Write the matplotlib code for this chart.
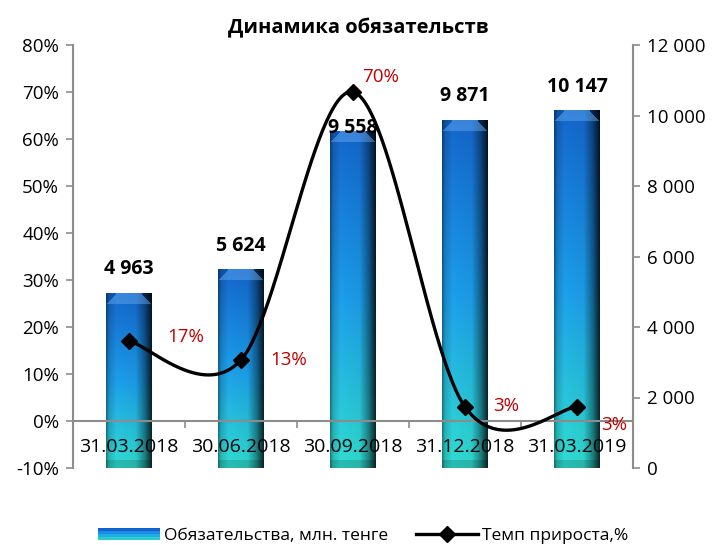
import numpy as np
import matplotlib
matplotlib.use("Agg")
import matplotlib.pyplot as plt
from matplotlib.patches import Rectangle
from matplotlib.lines import Line2D
from matplotlib.legend_handler import HandlerBase
import matplotlib.ticker as mticker

plt.rcParams['font.family'] = ['Open Sans', 'DejaVu Sans']

# ---- data ----
categories = ["31.03.2018", "30.06.2018", "30.09.2018", "31.12.2018", "31.03.2019"]
liabilities = [4963, 5624, 9558, 9871, 10147]
growth_pct = [17, 13, 70, 3, 3]
bar_label_text = ["4 963", "5 624", "9 558", "9 871", "10 147"]
pct_label_text = ["17%", "13%", "70%", "3%", "3%"]
series_names = ["Обязательства, млн. тенге", "Темп прироста,%"]
title = "Динамика обязательств"

# ---- style / positions ----
pct_offsets = [(41, 3), (34, 0), (20, 11), (30, 1), (27, -13)]   # points
bar_label_offsets = [17, 17, 2, 17, 17]                          # points above bar top
red = "#C00000"
gray = "#8C8C8C"

W, H = 713, 545
fig = plt.figure(figsize=(W / 100, H / 100), dpi=100)
ax = fig.add_axes([73 / W, 1 - 468 / H, 560 / W, 423 / H])
ax2 = ax.twinx()
ax.set_zorder(ax2.get_zorder() + 1)
ax.patch.set_visible(False)

n = len(categories)
x = np.arange(n)
bw = 0.41

# bar gradient image
def bar_image(px_h, px_w=46):
    hh = max(int(px_h), 2)
    t = np.linspace(0, 1, hh)[:, None, None]
    top = np.array([0.08, 0.40, 0.80])
    mid = np.array([0.11, 0.62, 0.92])
    bot = np.array([0.19, 0.87, 0.82])
    col = np.where(t < 0.5, top + (mid - top) * (t / 0.5),
                   mid + (bot - mid) * ((t - 0.5) / 0.5))
    col = np.repeat(col, px_w, axis=1)
    u = np.linspace(0, 1, px_w)
    shade = np.interp(u, [0, 0.06, 0.22, 0.65, 0.85, 1.0], [0.6, 0.85, 1.0, 0.96, 0.6, 0.2])
    img = col * shade[None, :, None]
    # top bevel (lighter blue trapezoid)
    bev = 11
    tint = np.array([0.40, 0.68, 0.95])
    for r in range(min(bev, hh)):
        lo = int((bev - r) * 0.9) + 1
        img[r, lo:px_w - lo] = img[r, lo:px_w - lo] * 0.55 + tint * 0.45
        img[r, :lo] = img[r, :lo] * 0.9
        img[r, px_w - lo:] = img[r, px_w - lo:] * 0.6
    # bottom bevel
    for r in range(max(hh - 8, 0), hh):
        img[r, :] = img[r, :] * 0.85
    return np.clip(img, 0, 1)

ymax2 = 12000
px_per_val = 423 / ymax2
for i, v in enumerate(liabilities):
    img = bar_image(v * px_per_val)
    ax2.imshow(img, extent=[x[i] - bw / 2, x[i] + bw / 2, 0, v], aspect='auto',
               interpolation='bilinear', zorder=1)

ax2.set_ylim(0, ymax2)
ax2.set_xlim(-0.5, n - 0.5)
ax2.set_yticks(np.arange(0, 12001, 2000))
ax2.yaxis.set_major_formatter(mticker.FuncFormatter(lambda v, p: f"{int(v):,}".replace(",", " ")))

# smooth line (Excel-like bezier) in pixel-scaled space
sx, sy = 112.0, 4.7
P = np.column_stack([x * sx, np.array(growth_pct, float) * sy])
curve = []
for i in range(n - 1):
    p0 = P[i - 1] if i > 0 else P[i]
    p1 = P[i]
    p2 = P[i + 1]
    p3 = P[i + 2] if i + 2 < n else P[i + 1]
    c1 = p1 + (p2 - p0) / 6
    c2 = p2 - (p3 - p1) / 6
    t = np.linspace(0, 1, 60)[:, None]
    seg = (1 - t) ** 3 * p1 + 3 * (1 - t) ** 2 * t * c1 + 3 * (1 - t) * t ** 2 * c2 + t ** 3 * p2
    curve.append(seg)
curve = np.vstack(curve)
ax.plot(curve[:, 0] / sx, curve[:, 1] / sy, color='black', lw=2.4, zorder=5, solid_capstyle='round')
ax.plot(x, growth_pct, linestyle='none', marker='D', ms=8, color='black', zorder=6)

ax.set_xlim(-0.5, n - 0.5)
ax.set_ylim(-10, 80)
ax.set_yticks(np.arange(-10, 81, 10))
ax.yaxis.set_major_formatter(mticker.FuncFormatter(lambda v, p: f"{int(round(v))}%"))

# percent labels
for i, (v, s) in enumerate(zip(growth_pct, pct_label_text)):
    ax.annotate(s, (x[i], v), xytext=pct_offsets[i], textcoords='offset points',
                ha='center', va='center', color=red, fontsize=13.5, zorder=7)

# bar labels
for i, (v, s) in enumerate(zip(liabilities, bar_label_text)):
    ax.annotate(s, (x[i], v), xycoords=ax2.transData, xytext=(0, bar_label_offsets[i]),
                textcoords='offset points', ha='center', va='center',
                fontsize=14, fontweight='bold', color='black', zorder=8)

# spines & ticks
for a in (ax, ax2):
    a.spines['top'].set_visible(False)
ax.spines['right'].set_visible(False)
ax2.spines['left'].set_visible(False)
ax2.spines['bottom'].set_visible(False)
ax.spines['bottom'].set_position(('data', 0))
for sp in [ax.spines['left'], ax.spines['bottom'], ax2.spines['right']]:
    sp.set_color(gray)
    sp.set_linewidth(1.5)

ax.set_xticks(np.arange(-0.5, n, 1.0))
ax.set_xticklabels([])
ax.tick_params(axis='x', which='major', direction='out', length=5, width=1.2, color=gray)
ax.set_xticks(x, minor=True)
ax.set_xticklabels(categories, minor=True)
ax.tick_params(axis='x', which='minor', length=0, pad=12, labelsize=14)
ax.tick_params(axis='y', direction='out', length=5, width=1.2, color=gray, labelsize=13.5, pad=5)
ax2.tick_params(axis='y', direction='out', length=5, width=1.2, color=gray, labelsize=13.5, pad=5)
ax2.tick_params(axis='x', bottom=False, labelbottom=False)

fig.text(358 / W, 1 - 28 / H, title, ha='center', va='center', fontsize=14.5, fontweight='bold')

# legend
class GradHandler(HandlerBase):
    def create_artists(self, legend, orig, xd, yd, width, height, fontsize, trans):
        arts = []
        cols = [(0.07, 0.38, 0.80), (0.10, 0.55, 0.90), (0.12, 0.68, 0.90), (0.17, 0.80, 0.80)]
        k = len(cols)
        for j, c in enumerate(cols):
            r = Rectangle((xd, yd + height * (k - 1 - j) / k), width, height / k,
                          facecolor=c, edgecolor='none', transform=trans)
            arts.append(r)
        return arts

bar_handle = Rectangle((0, 0), 1, 1)
line_handle = Line2D([], [], color='black', lw=2.4, marker='D', ms=8)
leg = fig.legend([bar_handle, line_handle], series_names, loc='center',
                 bbox_to_anchor=(363 / W, 1 - 536 / H), ncol=2, frameon=False,
                 fontsize=12.5, handlelength=3.6, handletextpad=0.2, columnspacing=1.6,
                 handler_map={Rectangle: GradHandler()})

fig.savefig("out.png", dpi=100)
